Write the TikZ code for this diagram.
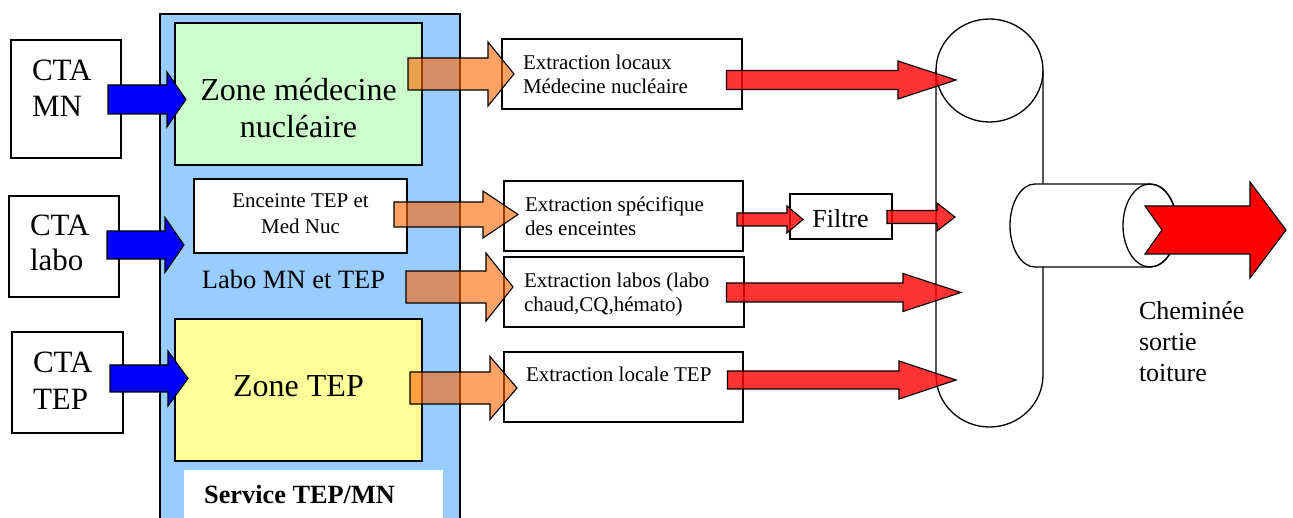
\documentclass[tikz,border=0pt]{standalone}
\usepackage{fontspec}
\setmainfont{Liberation Serif}
\usetikzlibrary{calc,shapes.geometric}
\definecolor{servblue}{HTML}{99CCFF}
\definecolor{mngreen}{HTML}{CCFFCC}
\definecolor{tepyellow}{HTML}{FFFF99}
\definecolor{arrorange}{RGB}{255,100,0}
\definecolor{arrblue}{HTML}{0000FF}
\definecolor{arrred}{HTML}{FF0000}
% #1 style, #2 start point, #3 tip point, #4 head length, #5 shaft half width, #6 head half width
\newcommand\blockarrow[6]{%
  \draw[#1] let \p1=#2, \p2=#3 in
    (\x1,\y2+#5pt) -- (\x2-#4pt,\y2+#5pt) -- (\x2-#4pt,\y2+#6pt) -- (\x2,\y2)
    -- (\x2-#4pt,\y2-#6pt) -- (\x2-#4pt,\y2-#5pt) -- (\x1,\y2-#5pt) -- cycle;}
\begin{document}
\begin{tikzpicture}[x=1pt,y=-1pt,
  box/.style={draw=black,line width=1.3pt,inner sep=0pt,outer sep=0pt},
  txt/.style={inner sep=0pt,outer sep=0pt,text=black},
  ctatxt/.style={txt,align=left,anchor=north west},
  exttxt/.style={txt,align=left,anchor=north west,font=\fontsize{21}{24}\selectfont},
  bluearrow/.style={draw=black,line width=1.1pt,fill=arrblue,line join=miter},
  orangearrow/.style={draw=black,line width=1.1pt,fill=arrorange,fill opacity=0.6,line join=miter},
  redarrow/.style={draw=black,line width=1.1pt,fill=arrred,fill opacity=0.8,line join=miter},
  bigarrow/.style={draw=black,line width=1.1pt,fill=arrred,line join=miter},
  pipe/.style={draw=black,line width=1.3pt}]
\useasboundingbox (0,0) rectangle (1293,518);
\clip (0,0) rectangle (1293,518);
\fill[white] (0,0) rectangle (1293,518);

% service
\node[box,fill=servblue,minimum width=300,minimum height=520] (service) at (310,274) {};
\node[box,fill=mngreen,minimum width=247,minimum height=142] (zonemn) at (298.5,94) {};
\node[box,fill=white,minimum width=213,minimum height=74] (encl) at (300.5,216) {};
\node[box,fill=tepyellow,minimum width=247,minimum height=142] (zonetep) at (298.5,390) {};
\node[fill=white,inner sep=0pt,outer sep=0pt,minimum width=259,minimum height=60] (servlab) at (313.5,500) {};

\node[txt,font=\fontsize{32}{37}\selectfont,align=center,anchor=north] (zonemntxt) at (298.5,78) {Zone médecine\\nucléaire};
\node[txt,font=\fontsize{21}{26}\selectfont,align=center,anchor=north] (encltxt) at (300.5,193.7) {Enceinte TEP et\\Med Nuc};
\node[txt,font=\fontsize{26.5}{30}\selectfont,anchor=base] (labotxt) at (293.5,289) {Labo MN et TEP};
\node[txt,font=\fontsize{32}{37}\selectfont,anchor=base] (zoneteptxt) at (298.5,397) {Zone TEP};
\node[txt,font=\fontsize{26.3}{30}\selectfont\bfseries,anchor=base] (servtxt) at (299.5,503) {Service TEP/MN};

% CTA boxes
\node[box,minimum width=110,minimum height=118] (ctamn) at (66,99) {};
\node[box,minimum width=110,minimum height=101] (ctalabo) at (64,246.5) {};
\node[box,minimum width=111,minimum height=101] (ctatep) at (67.5,382.5) {};
\node[ctatxt,font=\fontsize{31}{36.5}\selectfont] (ctamntxt) at (32,59.5) {CTA\\MN};
\node[ctatxt,font=\fontsize{31}{35}\selectfont] (ctalabotxt) at (30,214.5) {CTA\\labo};
\node[ctatxt,font=\fontsize{31}{37}\selectfont] (ctateptxt) at (33,351.5) {CTA\\TEP};

% extraction boxes
\node[box,minimum width=240,minimum height=70] (e1) at (622,74) {};
\node[box,minimum width=239,minimum height=70] (e2) at (623.5,216) {};
\node[box,minimum width=240,minimum height=70] (e3) at (624,292) {};
\node[box,minimum width=239,minimum height=70] (e4) at (623.5,387) {};
\node[exttxt] (e1txt) at (523,54.7) {Extraction locaux\\Médecine nucléaire};
\node[exttxt] (e2txt) at (525,196.7) {Extraction spécifique\\des enceintes};
\node[exttxt] (e3txt) at (524,272.7) {Extraction labos (labo\\chaud,CQ,hémato)};
\node[txt,font=\fontsize{21}{24}\selectfont,anchor=base west] (e4txt) at (526,382) {Extraction locale TEP};

% filter
\node[box,minimum width=102,minimum height=45] (filtre) at (841,216.5) {};
\node[txt,font=\fontsize{26}{30}\selectfont,anchor=base] (filtretxt) at (840.5,228) {Filtre};

% collector column
\node[pipe,ellipse,minimum width=107,minimum height=103,inner sep=0pt,outer sep=0pt] (collector) at (989.5,70.5) {};
\draw[pipe] (collector.west) -- ++(0,304.5) arc[start angle=180,end angle=360,x radius=53.5pt,y radius=52pt] -- (collector.east);

% chimney cylinder
\draw[pipe,fill=white] (1035,184) -- (1150,184) arc[start angle=90,end angle=-90,x radius=27pt,y radius=41.5pt]
  -- (1035,267) arc[start angle=-90,end angle=-270,x radius=25pt,y radius=41.5pt] -- cycle;
\draw[pipe] (1150,225.5) ellipse[x radius=27pt,y radius=41.5pt];
\coordinate (chimney) at (1150,225.5);
\node[txt,font=\fontsize{26}{31}\selectfont,align=left,anchor=north west] (chemtxt) at (1139,301.2) {Cheminée\\sortie\\toiture};

% blue arrows
\blockarrow{bluearrow}{($(ctamn.east)+(-13,0)$)}{($(zonemn.west)+(11,5.5)$)}{19}{14.5}{27.5}
\blockarrow{bluearrow}{($(ctalabo.east)+(-12,0)$)}{($(service.west)+(24,-29)$)}{19}{14}{27.5}
\blockarrow{bluearrow}{($(ctatep.east)+(-13,0)$)}{($(zonetep.west)+(13,-11.5)$)}{20}{13.5}{27.5}

% orange arrows
\blockarrow{orangearrow}{($(zonemn.east)+(-14,0)$)}{($(e1.west)+(12,0)$)}{26}{16}{32}
\blockarrow{orangearrow}{($(encl.east)+(-13,0)$)}{($(e2.west)+(14,-1.5)$)}{35}{12.5}{23.5}
\blockarrow{orangearrow}{($(service.east)+(-54,0)$)}{($(e3.west)+(9,-5)$)}{27}{16}{34}
\blockarrow{orangearrow}{($(zonetep.east)+(-12,0)$)}{($(e4.west)+(13,1)$)}{27}{16}{31.5}

% red arrows
\blockarrow{redarrow}{($(e1.east)+(-15.5,0)$)}{($(collector.west)+(20,9.5)$)}{58}{9.5}{19}
\blockarrow{redarrow}{($(e2.east)+(-6,0)$)}{($(filtre.west)+(13,3)$)}{16}{6.5}{13.5}
\blockarrow{redarrow}{($(filtre.east)+(-5,0)$)}{($(collector.west)+(19,146.5)$)}{18}{6.5}{14}
\blockarrow{redarrow}{($(e3.east)+(-17.5,0)$)}{($(collector.west)+(25,222)$)}{58}{9.5}{19}
\blockarrow{redarrow}{($(e4.east)+(-15.5,0)$)}{($(collector.west)+(20,309.5)$)}{57}{9}{19}

% outlet arrow
\draw[bigarrow] ($(chimney)+(-5,-19.5)$) -- ++(105,0) -- ++(0,-24) -- ($(chimney)+(136,4.5)$)
  -- ++(-36,48) -- ++(0,-24) -- ++(-105,0) -- ($(chimney)+(12,4.5)$) -- cycle;
\end{tikzpicture}
\end{document}
